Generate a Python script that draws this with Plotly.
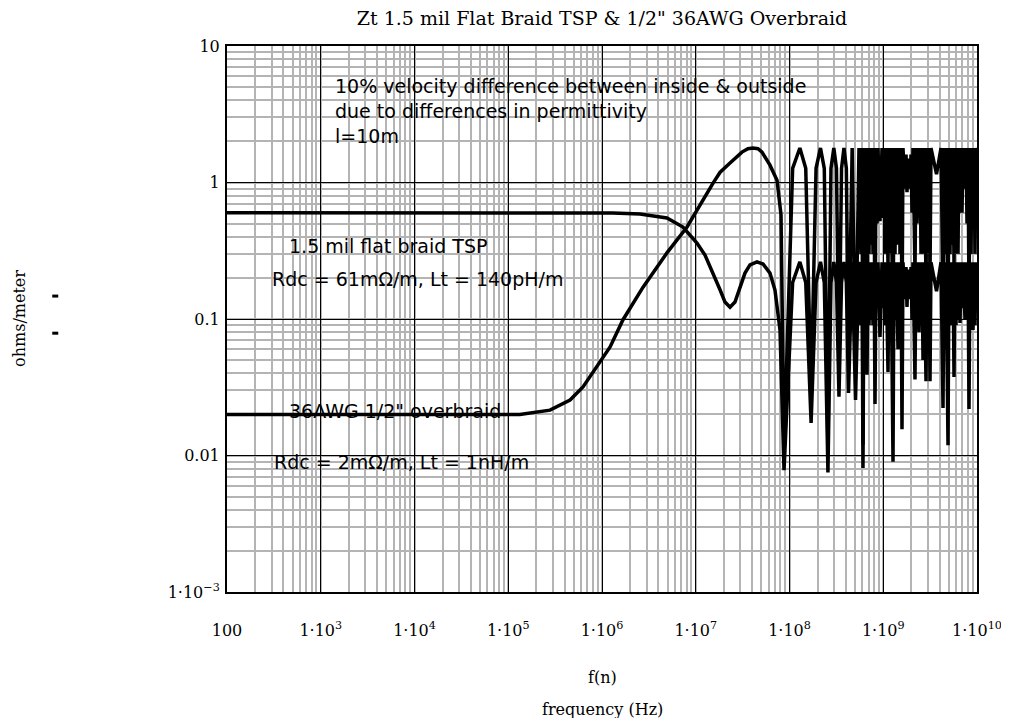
import plotly.graph_objects as go

# --- data ---
# 1.5 mil flat braid TSP, smooth part (Hz, ohms/m)
freq_tsp = [1e2, 1e3, 1e4, 1e5, 1e6, 1.3e6, 2.54e6, 4.93e6, 7.31e6, 1.03e7,
            1.255e7, 1.53e7, 1.82e7, 2.05e7, 2.32e7, 2.62e7, 2.965e7, 3.35e7,
            3.79e7, 4.5e7, 5.22e7, 6.19e7, 7.0e7, 7.92e7]
z_tsp = [0.6, 0.6, 0.6, 0.6, 0.6, 0.598, 0.587, 0.55, 0.472, 0.36,
         0.294, 0.217, 0.163, 0.133, 0.122, 0.133, 0.171, 0.217,
         0.249, 0.262, 0.253, 0.217, 0.163, 0.083]

# 36AWG 1/2" overbraid, smooth part
freq_ob = [1e2, 1e3, 1e4, 1e5, 1.33e5, 2.79e5, 4.56e5, 6.27e5, 8.85e5,
           1.22e6, 1.67e6, 2.74e6, 4.93e6, 8.07e6, 1.53e7, 1.82e7, 2.32e7,
           3.11e7, 3.6e7, 4.08e7, 4.61e7, 5.09e7, 6.19e7, 7.36e7, 8.12e7]
z_ob = [0.02, 0.02, 0.02, 0.02, 0.02, 0.0215, 0.0255, 0.0318, 0.0445,
        0.0624, 0.0984, 0.171, 0.305, 0.472, 0.99, 1.19, 1.39,
        1.67, 1.77, 1.79, 1.77, 1.67, 1.34, 1.04, 0.58]

# resonance region, both cables share the same nulls
freq_osc = [8.74e7, 1.08e8, 1.29e8, 1.49e8, 1.70e8, 1.92e8, 2.14e8, 2.35e8,
            2.57e8, 2.77e8, 2.97e8, 3.17e8, 3.37e8, 3.59e8, 3.81e8, 4.04e8,
            4.26e8, 4.66e8, 5.06e8, 5.51e8, 5.79e8, 5.93e8, 6.08e8, 6.23e8,
            6.39e8, 6.55e8, 6.71e8, 6.88e8, 7.05e8, 7.22e8, 7.40e8, 7.59e8,
            7.77e8, 7.97e8, 8.17e8, 8.37e8, 8.58e8, 8.79e8, 9.23e8, 9.70e8,
            9.94e8, 1.02e9, 1.044e9, 1.07e9, 1.124e9, 1.152e9, 1.18e9, 1.21e9,
            1.271e9, 1.302e9, 1.335e9, 1.368e9, 1.437e9, 1.472e9, 1.509e9, 1.546e9,
            1.585e9, 1.624e9, 1.706e9, 1.749e9, 1.792e9, 1.837e9, 1.929e9, 1.977e9,
            2.026e9, 2.076e9, 2.181e9, 2.235e9, 2.291e9, 2.348e9, 2.406e9, 2.466e9,
            2.527e9, 2.59e9, 2.655e9, 2.721e9, 2.858e9, 2.929e9, 3.001e9, 3.076e9,
            3.153e9, 3.231e9, 3.70e9, 4.13e9, 4.339e9, 4.447e9, 4.558e9, 4.671e9,
            4.906e9, 5.027e9, 5.152e9, 5.281e9, 5.412e9, 5.546e9, 5.684e9, 5.826e9,
            5.97e9, 6.119e9, 6.271e9, 6.427e9, 6.587e9, 6.751e9, 6.918e9, 7.09e9,
            7.447e9, 7.633e9, 7.822e9, 8.017e9, 8.216e9, 8.421e9, 8.63e9, 8.844e9,
            9.064e9, 9.29e9, 9.521e9, 9.757e9, 1e10]
osc_tsp = [0.0078, 0.185, 0.262, 0.185, 0.0173, 0.185, 0.262, 0.185,
           0.0075, 0.185, 0.262, 0.185, 0.027, 0.185, 0.262, 0.185,
           0.0287, 0.262, 0.0255, 0.262, 0.09, 0.26, 0.0081, 0.26,
           0.09, 0.26, 0.039, 0.26, 0.09, 0.26, 0.1, 0.26,
           0.09, 0.26, 0.0238, 0.26, 0.12, 0.26, 0.074, 0.26,
           0.12, 0.26, 0.09, 0.26, 0.041, 0.26, 0.09, 0.26,
           0.009, 0.26, 0.1, 0.26, 0.06, 0.26, 0.09, 0.26,
           0.0156, 0.26, 0.14, 0.24, 0.1225, 0.23, 0.14, 0.24,
           0.1, 0.26, 0.036, 0.26, 0.1, 0.26, 0.08, 0.26,
           0.09, 0.26, 0.05, 0.26, 0.035, 0.26, 0.09, 0.26,
           0.035, 0.26, 0.16, 0.26, 0.0223, 0.26, 0.09, 0.26,
           0.0119, 0.26, 0.09, 0.26, 0.1, 0.26, 0.0376, 0.26,
           0.09, 0.26, 0.1, 0.26, 0.0935, 0.26, 0.12, 0.26,
           0.1, 0.26, 0.12, 0.26, 0.0219, 0.26, 0.09, 0.26,
           0.083, 0.26, 0.09, 0.26, 0.22]
osc_ob = [0.011, 1.27, 1.79, 1.27, 0.03, 1.27, 1.79, 1.27,
          0.011, 1.27, 1.79, 1.27, 0.045, 1.27, 1.79, 1.27,
          0.05, 1.79, 0.045, 1.79, 0.3, 1.79, 0.012, 1.79,
          0.3, 1.79, 0.07, 1.79, 0.3, 1.79, 0.35, 1.79,
          0.3, 1.79, 0.04, 1.79, 0.5, 1.79, 0.52, 1.79,
          0.55, 1.79, 0.3, 1.79, 0.25, 1.79, 0.3, 1.79,
          0.05, 1.79, 0.3, 1.79, 0.35, 1.79, 0.3, 1.79,
          0.09, 1.79, 0.9, 1.6, 0.85, 1.5, 0.9, 1.6,
          0.6, 1.79, 0.22, 1.79, 0.5, 1.79, 0.55, 1.79,
          0.3, 1.79, 0.3, 1.79, 0.2, 1.79, 0.3, 1.79,
          0.2, 1.79, 1.15, 1.79, 0.14, 1.79, 0.3, 1.79,
          0.08, 1.79, 0.3, 1.79, 0.35, 1.79, 0.25, 1.79,
          0.3, 1.79, 0.3, 1.79, 0.6, 1.79, 0.6, 1.79,
          0.9, 1.79, 0.5, 1.79, 0.14, 1.79, 0.3, 1.79,
          0.5, 1.79, 0.3, 1.79, 1.5]

x_ticks = [1e2, 1e3, 1e4, 1e5, 1e6, 1e7, 1e8, 1e9, 1e10]
x_labels = ['100', '1·10<sup>3</sup>', '1·10<sup>4</sup>', '1·10<sup>5</sup>',
            '1·10<sup>6</sup>', '1·10<sup>7</sup>', '1·10<sup>8</sup>',
            '1·10<sup>9</sup>', '1·10<sup>10</sup>']
y_ticks = [1e-3, 1e-2, 0.1, 1, 10]
y_labels = ['1·10<sup>−3</sup>', '0.01', '0.1', '1', '10']

SERIF = 'DejaVu Serif'
SANS = 'DejaVu Sans'

fig = go.Figure()
fig.add_trace(go.Scatter(x=freq_tsp + freq_osc, y=z_tsp + osc_tsp, mode='lines',
                         line=dict(color='black', width=3.5), name='TSP'))
fig.add_trace(go.Scatter(x=freq_ob + freq_osc, y=z_ob + osc_ob, mode='lines',
                         line=dict(color='black', width=3.5), name='overbraid'))

axis_common = dict(
    type='log', showline=True, linecolor='black', linewidth=2, mirror=True,
    showgrid=True, gridcolor='black', gridwidth=1, zeroline=False,
    ticks='', tickmode='array', ticklabeloverflow='allow',
    tickfont=dict(family=SERIF, size=16, color='black'),
    minor=dict(dtick='D1', showgrid=True, gridcolor='#b4b4b4', gridwidth=1.5, ticks=''),
)
fig.update_xaxes(range=[2, 10], tickvals=x_ticks, ticktext=x_labels,
                 ticklabelstandoff=23, **axis_common)
fig.update_yaxes(range=[-3, 1], tickvals=y_ticks, ticktext=y_labels,
                 ticklabelstandoff=2, **axis_common)

notes = [
    ('10% velocity difference between inside & outside', 0.1413, 0.9267),
    ('due to differences in permittivity', 0.1413, 0.881),
    ('l=10m', 0.1413, 0.835),
    ('1.5 mil flat braid TSP', 0.08, 0.6337),
    ('Rdc = 61mΩ/m, Lt = 140pH/m', 0.0573, 0.5733),
    ('36AWG 1/2" overbraid', 0.08, 0.3315),
    ('Rdc = 2mΩ/m, Lt = 1nH/m', 0.06, 0.238),
]
annotations = [dict(text=t, x=x, y=y, xref='paper', yref='paper', xanchor='left',
                    yanchor='middle', showarrow=False,
                    font=dict(family=SANS, size=19, color='black'))
               for t, x, y in notes]
annotations += [
    dict(text='f(n)', x=0.5, y=-0.1557, xref='paper', yref='paper', showarrow=False,
         xanchor='center', yanchor='middle',
         font=dict(family=SERIF, size=16, color='black')),
    dict(text='frequency (Hz)', x=0.5, y=-0.216, xref='paper', yref='paper',
         xanchor='center', yanchor='middle', showarrow=False,
         font=dict(family=SERIF, size=16, color='black')),
    dict(text='ohms/meter', x=-0.276, y=0.502, xref='paper', yref='paper',
         xanchor='center', yanchor='middle', textangle=-90, showarrow=False,
         font=dict(family=SERIF, size=16, color='black')),
]

# the two little placeholder marks next to the y label
shapes = [dict(type='rect', xref='paper', yref='paper', xsizemode='pixel',
               ysizemode='pixel', xanchor=-0.229, yanchor=yy, x0=-3, x1=3,
               y0=-1.5, y1=1.5, fillcolor='black', line=dict(width=0))
          for yy in (0.542, 0.474)]

# the page body adds an 8px margin, so the figure is shifted by 8px;
# right margin wide enough for the 1e10 label so it is not pushed
fig.update_layout(
    width=1005, height=710,
    margin=dict(l=219, r=36, t=38, b=126),
    paper_bgcolor='white', plot_bgcolor='white',
    showlegend=False,
    title=dict(text='Zt 1.5 mil Flat Braid TSP & 1/2" 36AWG Overbraid',
               x=0.5, xref='paper', y=0.986, yref='container', yanchor='middle',
               font=dict(family=SERIF, size=19, color='black')),
    annotations=annotations,
    shapes=shapes,
)

fig.write_html('out.html')
